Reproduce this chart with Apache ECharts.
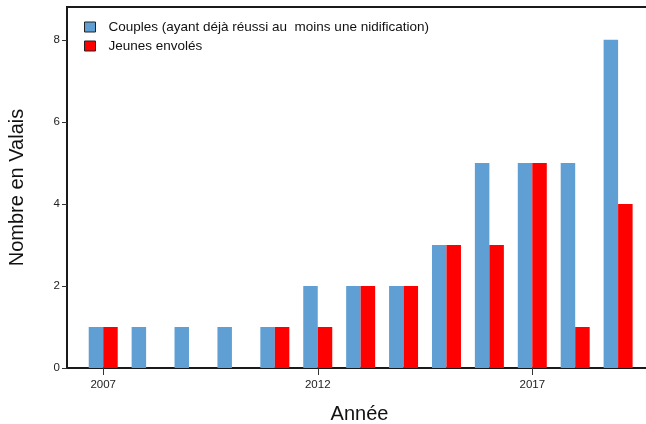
<!DOCTYPE html>
<html>
<head>
<meta charset="utf-8">
<script src="https://cdn.jsdelivr.net/npm/echarts@6/dist/echarts.min.js"></script>
<style>
  html, body { margin: 0; padding: 0; background: #fff; }
  #chart { width: 646px; height: 424px; }
</style>
</head>
<body>
<div id="chart"></div>
<script>
  // data
  var years = [2007, 2008, 2009, 2010, 2011, 2012, 2013, 2014, 2015, 2016, 2017, 2018, 2019]
  var couples = [1, 1, 1, 1, 1, 2, 2, 2, 3, 5, 5, 5, 8]
  var jeunes = [1, 0, 0, 0, 1, 1, 2, 2, 3, 3, 5, 1, 4]
  var xTicks = [2007, 2012, 2017]
  var yTicks = [0, 2, 4, 6, 8]

  var font = 'Liberation Sans, Arial, Helvetica, sans-serif'

  function pairs(vals) {
    var out = []
    for (var i = 0; i < years.length; i++) {
      out.push([years[i], vals[i]])
    }
    return out
  }

  var dom = echarts.init(document.getElementById('chart'))
  var option = {
    animation: false,
    textStyle: { fontFamily: font },
    grid: {
      left: 67,
      right: -6,
      top: 7,
      bottom: 56,
      outerBoundsMode: 'none',
      containLabel: false,
      show: true,
      borderColor: '#1a1a1a',
      borderWidth: 2
    },
    legend: {
      orient: 'vertical',
      left: 79,
      top: 15,
      itemGap: 5,
      itemWidth: 11,
      itemHeight: 10,
      icon: 'rect',
      textStyle: { fontFamily: font, fontSize: 13.5, color: '#111', padding: [0, 0, 0, 8] },
      data: [
        { name: 'Couples (ayant déjà réussi au  moins une nidification)', itemStyle: { borderColor: '#222', borderWidth: 1 } },
        { name: 'Jeunes envolés', itemStyle: { borderColor: '#222', borderWidth: 1 } }
      ]
    },
    xAxis: {
      type: 'value',
      min: 2006.156,
      max: 2019.79,
      name: 'Année',
      nameLocation: 'middle',
      nameGap: 36,
      nameTextStyle: { fontFamily: font, fontSize: 20, color: '#111' },
      axisLine: { show: false },
      splitLine: { show: false },
      axisTick: {
        show: true,
        length: 7,
        customValues: xTicks,
        lineStyle: { color: '#333', width: 1 }
      },
      axisLabel: {
        customValues: xTicks,
        margin: 11,
        fontSize: 11.5,
        color: '#222',
        formatter: function (v) { return String(v) }
      }
    },
    yAxis: {
      type: 'value',
      min: 0,
      max: 8.8,
      name: 'Nombre en Valais',
      nameLocation: 'middle',
      nameGap: 40,
      nameTextStyle: { fontFamily: font, fontSize: 20, color: '#111' },
      axisLine: { show: false },
      splitLine: { show: false },
      axisTick: {
        show: true,
        length: 5,
        customValues: yTicks,
        lineStyle: { color: '#333', width: 1 }
      },
      axisLabel: {
        customValues: yTicks,
        margin: 7,
        fontSize: 11.5,
        color: '#222'
      }
    },
    series: [
      {
        name: 'Couples (ayant déjà réussi au  moins une nidification)',
        type: 'bar',
        barWidth: 14.5,
        barGap: '0%',
        itemStyle: { color: '#5f9fd3' },
        data: pairs(couples)
      },
      {
        name: 'Jeunes envolés',
        type: 'bar',
        barWidth: 14.5,
        barGap: '0%',
        itemStyle: { color: '#ff0000' },
        data: pairs(jeunes)
      }
    ]
  }
  dom.setOption(option)
</script>
</body>
</html>
